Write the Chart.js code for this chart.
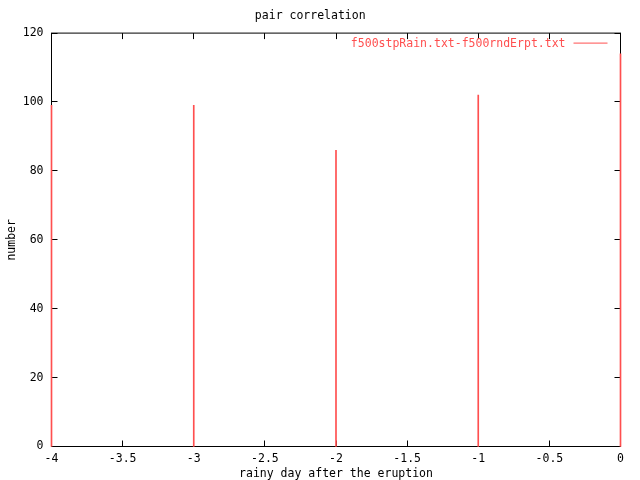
<!DOCTYPE html>
<html lang="en">
<head>
  <meta charset="UTF-8" />
  <title>pair correlation</title>
  <script src="https://cdn.jsdelivr.net/npm/chart.js"></script>
  <style>
    html, body { margin: 0; padding: 0; background: #ffffff; }
    canvas { display: block; }
  </style>
</head>
<body>
  <canvas id="pairChart" width="640" height="480"></canvas>

  <script>
    // data
    const seriesName = "f500stpRain.txt-f500rndErpt.txt";
    const dayOffsets = [-4, -3, -2, -1, 0];
    const counts = [99, 99, 86, 102, 114];
    const xTickValues = [-4, -3.5, -3, -2.5, -2, -1.5, -1, -0.5, 0];
    const yTickValues = [0, 20, 40, 60, 80, 100, 120];

    const monoFont = { family: "'DejaVu Sans Mono', 'Liberation Mono', monospace", size: 11.5 };
    const lineRed = "#ff4f4f";

    // gnuplot style frame: full box, inward ticks mirrored on all sides, legend inside top right
    const gnuplotFrame = {
      id: "gnuplotFrame",
      beforeDatasetsDraw(chart) {
        const { ctx, chartArea: a, scales } = chart;
        const tick = 6;
        ctx.save();
        ctx.strokeStyle = "#000";
        ctx.lineWidth = 1;
        ctx.strokeRect(a.left, a.top, a.right - a.left, a.bottom - a.top);
        ctx.beginPath();
        xTickValues.forEach((v) => {
          const px = Math.round(scales.x.getPixelForValue(v) - 0.5) + 0.5;
          ctx.moveTo(px, a.bottom); ctx.lineTo(px, a.bottom - tick);
          ctx.moveTo(px, a.top); ctx.lineTo(px, a.top + tick);
        });
        yTickValues.forEach((v) => {
          const py = Math.round(scales.y.getPixelForValue(v) - 0.5) + 0.5;
          ctx.moveTo(a.left, py); ctx.lineTo(a.left + tick, py);
          ctx.moveTo(a.right, py); ctx.lineTo(a.right - tick, py);
        });
        ctx.stroke();

        // key
        ctx.font = monoFont.size + "px " + monoFont.family;
        ctx.fillStyle = lineRed;
        ctx.textAlign = "right";
        ctx.textBaseline = "middle";
        ctx.fillText(chart.data.datasets[0].label, a.right - 55, a.top + 11);
        ctx.strokeStyle = lineRed;
        ctx.beginPath();
        ctx.moveTo(a.right - 47, a.top + 10);
        ctx.lineTo(a.right - 13, a.top + 10);
        ctx.stroke();
        ctx.restore();
      }
    };

    const ctx = document.getElementById("pairChart").getContext("2d");
    new Chart(ctx, {
      type: "bar",
      data: {
        datasets: [{
          label: seriesName,
          data: dayOffsets.map((d, i) => ({ x: d, y: counts[i] })),
          backgroundColor: lineRed,
          borderWidth: 0,
          barThickness: 1,
          grouped: false,
          clip: false
        }]
      },
      options: {
        responsive: false,
        animation: false,
        layout: { padding: { left: 0, right: 19.5, top: 0, bottom: 0 } },
        scales: {
          x: {
            type: "linear",
            min: -4,
            max: 0,
            offset: false,
            afterBuildTicks: (s) => { s.ticks = xTickValues.map((v) => ({ value: v })); },
            afterFit: (s) => { s.height = 33.5; },
            grid: { display: false, drawTicks: false, offset: false },
            border: { display: false },
            ticks: {
              color: "#000",
              font: monoFont,
              padding: 6,
              maxRotation: 0,
              autoSkip: false,
              callback: (v) => String(v)
            },
            title: {
              display: true,
              text: "rainy day after the eruption",
              color: "#000",
              font: { family: monoFont.family, size: monoFont.size, lineHeight: 1 },
              padding: { top: 0, bottom: 0 }
            }
          },
          y: {
            min: 0,
            max: 120,
            afterBuildTicks: (s) => { s.ticks = yTickValues.map((v) => ({ value: v })); },
            afterFit: (s) => { s.width = 51.5; },
            grid: { display: false, drawTicks: false },
            border: { display: false },
            ticks: {
              color: "#000",
              font: monoFont,
              padding: 8,
              autoSkip: false,
              callback: (v) => String(v)
            },
            title: {
              display: true,
              text: "number",
              color: "#000",
              font: monoFont,
              padding: { top: 5, bottom: 0 }
            }
          }
        },
        plugins: {
          legend: { display: false },
          tooltip: { enabled: false },
          title: {
            display: true,
            text: "pair correlation",
            color: "#000",
            font: { family: monoFont.family, size: monoFont.size, weight: "normal" },
            padding: { top: 9.4, bottom: 9.9 }
          }
        }
      },
      plugins: [gnuplotFrame]
    });
  </script>
</body>
</html>
